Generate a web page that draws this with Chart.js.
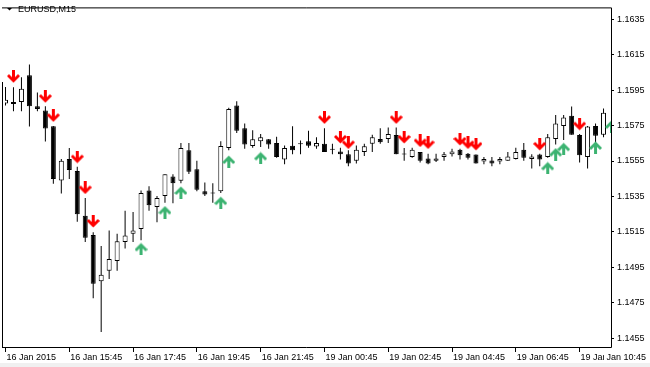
<!DOCTYPE html>
<html>
<head>
<meta charset="utf-8">
<script src="https://cdn.jsdelivr.net/npm/chart.js@4.4.0/dist/chart.umd.min.js"></script>
<style>
  html, body { margin: 0; padding: 0; background: #fff; }
  canvas { display: block; }
</style>
</head>
<body>
<canvas id="chart" width="650" height="367"></canvas>
<script>
// EURUSD M15 bars, left to right (bar 0 = 16 Jan 13:45)
var symbolTitle = 'EURUSD,M15';
var opens = [
  1.15874, 1.15883, 1.15883, 1.16034, 1.15859, 1.15835, 1.15746, 1.15440, 1.15562, 1.15493,
  1.15241, 1.15132, 1.14872, 1.14931, 1.14986, 1.15093, 1.15139, 1.15167, 1.15383, 1.15291,
  1.15352, 1.15462, 1.15438, 1.15610, 1.15503, 1.15379, 1.15368, 1.15379, 1.15623, 1.15863,
  1.15735, 1.15634, 1.15662, 1.15673, 1.15651, 1.15558, 1.15636, 1.15650, 1.15662, 1.15632,
  1.15647, 1.15615, 1.15603, 1.15588, 1.15551, 1.15601, 1.15647, 1.15674, 1.15674, 1.15697,
  1.15586, 1.15573, 1.15601, 1.15564, 1.15551, 1.15573, 1.15588, 1.15614, 1.15591, 1.15586,
  1.15547, 1.15553, 1.15547, 1.15551, 1.15562, 1.15614, 1.15562, 1.15586, 1.15573, 1.15674,
  1.15748, 1.15806, 1.15697, 1.15573, 1.15748, 1.15698
];
var highs = [
  1.15968, 1.15966, 1.16022, 1.16095, 1.15936, 1.15859, 1.15748, 1.15562, 1.15623, 1.15518,
  1.15342, 1.15148, 1.15071, 1.15158, 1.15139, 1.15269, 1.15263, 1.15383, 1.15407, 1.15352,
  1.15475, 1.15475, 1.15652, 1.15652, 1.15551, 1.15429, 1.15425, 1.15662, 1.15850, 1.15887,
  1.15761, 1.15724, 1.15702, 1.15674, 1.15687, 1.15637, 1.15746, 1.15665, 1.15720, 1.15684,
  1.15735, 1.15647, 1.15625, 1.15610, 1.15637, 1.15647, 1.15698, 1.15735, 1.15739, 1.15739,
  1.15623, 1.15625, 1.15601, 1.15591, 1.15591, 1.15601, 1.15619, 1.15619, 1.15595, 1.15586,
  1.15573, 1.15573, 1.15573, 1.15601, 1.15625, 1.15652, 1.15588, 1.15591, 1.15702, 1.15809,
  1.15809, 1.15857, 1.15702, 1.15748, 1.15761, 1.15846
];
var lows = [
  1.15863, 1.15831, 1.15831, 1.15745, 1.15831, 1.15660, 1.15421, 1.15366, 1.15449, 1.15208,
  1.15093, 1.14776, 1.14585, 1.14884, 1.14931, 1.15056, 1.15093, 1.15103, 1.15269, 1.15204,
  1.15315, 1.15311, 1.15425, 1.15477, 1.15379, 1.15352, 1.15315, 1.15370, 1.15610, 1.15708,
  1.15619, 1.15625, 1.15629, 1.15619, 1.15569, 1.15532, 1.15588, 1.15588, 1.15625, 1.15619,
  1.15601, 1.15588, 1.15558, 1.15521, 1.15536, 1.15578, 1.15601, 1.15647, 1.15651, 1.15588,
  1.15551, 1.15569, 1.15542, 1.15532, 1.15545, 1.15551, 1.15576, 1.15558, 1.15558, 1.15536,
  1.15532, 1.15521, 1.15532, 1.15551, 1.15558, 1.15551, 1.15508, 1.15521, 1.15569, 1.15643,
  1.15669, 1.15698, 1.15542, 1.15508, 1.15619, 1.15684
];
var closes = [
  1.15896, 1.15872, 1.15957, 1.15859, 1.15844, 1.15734, 1.15449, 1.15551, 1.15499, 1.15250,
  1.15117, 1.14857, 1.14909, 1.14997, 1.15097, 1.15130, 1.15158, 1.15370, 1.15300, 1.15341,
  1.15475, 1.15425, 1.15623, 1.15490, 1.15388, 1.15361, 1.15366, 1.15634, 1.15844, 1.15720,
  1.15643, 1.15673, 1.15684, 1.15643, 1.15573, 1.15623, 1.15610, 1.15644, 1.15636, 1.15651,
  1.15601, 1.15614, 1.15588, 1.15536, 1.15614, 1.15633, 1.15684, 1.15656, 1.15702, 1.15588,
  1.15586, 1.15614, 1.15551, 1.15536, 1.15564, 1.15588, 1.15604, 1.15582, 1.15569, 1.15536,
  1.15562, 1.15536, 1.15562, 1.15576, 1.15601, 1.15569, 1.15576, 1.15558, 1.15684, 1.15761,
  1.15795, 1.15698, 1.15582, 1.15745, 1.15693, 1.15822
];

// indicator arrows: bar index and price level
var sellBars   = [1, 5, 6, 9, 10, 11, 40, 42, 43, 49, 50, 52, 53, 57, 58, 59, 67, 72];
var sellLevels = [1.16026, 1.15913, 1.15805, 1.15572, 1.15398, 1.15209, 1.15794, 1.15683, 1.15652,
                  1.15794, 1.15683, 1.15663, 1.15652, 1.15672, 1.15652, 1.15644, 1.15644, 1.15758];
var buyBars    = [17, 20, 22, 27, 28, 32, 68, 69, 70, 74, 76];
var buyLevels  = [1.15054, 1.15262, 1.15373, 1.15315, 1.15547, 1.15567, 1.15511, 1.15589,
                  1.15619, 1.15627, 1.15746];

var timeTicks  = [0, 8, 16, 24, 32, 40, 48, 56, 64, 72];
var timeLabels = ['16 Jan 2015', '16 Jan 15:45', '16 Jan 17:45', '16 Jan 19:45', '16 Jan 21:45',
                  '19 Jan 00:45', '19 Jan 02:45', '19 Jan 04:45', '19 Jan 06:45', '19 Jan 08:45'];
var lastBarLabel = '19 Jan 10:45';
var priceTicks = [1.1635, 1.1615, 1.1595, 1.1575, 1.1555, 1.1535, 1.1515, 1.1495, 1.1475, 1.1455];

var FONT = '"Liberation Sans", Arial, sans-serif';
Chart.defaults.font.family = FONT;
Chart.defaults.font.size = 9;
Chart.defaults.color = '#000';

// arrow glyphs
function makeArrow(color, up) {
  var cv = document.createElement('canvas');
  cv.width = 13; cv.height = 13;
  var g = cv.getContext('2d');
  var pts = [[5,0],[8,0],[8,7],[11,4],[13,6],[6.5,12.5],[0,6],[2,4],[5,7]];
  g.fillStyle = color;
  g.beginPath();
  pts.forEach(function (p, i) {
    var y = up ? 13 - p[1] : p[1];
    if (i == 0) g.moveTo(p[0], y); else g.lineTo(p[0], y);
  });
  g.closePath();
  g.fill();
  return cv;
}
var redArrow = makeArrow('#ff0000', false);
var greenArrow = makeArrow('#3cb371', true);

var bars = opens.map(function (o, i) { return i; });

var frame = {
  id: 'frame',
  beforeDraw: function (chart) {
    var c = chart.ctx;
    c.save();
    c.fillStyle = '#fff';
    c.fillRect(0, 0, chart.width, chart.height);
    c.fillStyle = '#f0f0f0';
    c.fillRect(0, 363, chart.width, chart.height - 363);
    c.restore();
  },
  afterDraw: function (chart) {
    var c = chart.ctx, a = chart.chartArea;
    c.save();
    c.strokeStyle = '#000';
    c.lineWidth = 1;
    c.beginPath();
    c.moveTo(2, a.top - 0.5);
    c.lineTo(a.right + 0.5, a.top - 0.5);
    c.lineTo(a.right + 0.5, a.bottom - 0.5);
    c.lineTo(2, a.bottom - 0.5);
    c.moveTo(2.5, 82);
    c.lineTo(2.5, a.bottom);
    c.stroke();

    // title
    c.fillStyle = '#000';
    c.beginPath();
    c.moveTo(7, 8); c.lineTo(12, 8); c.lineTo(9.5, 10.5);
    c.closePath(); c.fill();
    c.font = '9px ' + FONT;
    c.textBaseline = 'middle';
    c.fillText(symbolTitle, 18, 9.5);

    // last bar time drawn over the last label
    c.fillStyle = '#fff';
    c.fillRect(604, 352, 46, 11);
    c.beginPath();
    c.rect(604, 352, 46, 11);
    c.clip();
    c.fillStyle = '#000';
    c.textAlign = 'right';
    c.fillText(lastBarLabel, 646, 357.5);
    c.restore();
  }
};

new Chart(document.getElementById('chart'), {
  type: 'bar',
  data: {
    datasets: [{
      type: 'scatter',
      data: sellBars.map(function (b, i) { return { x: b, y: sellLevels[i] }; }),
      pointStyle: redArrow,
      clip: 0,
      order: 0
    }, {
      type: 'scatter',
      data: buyBars.map(function (b, i) { return { x: b, y: buyLevels[i] }; }),
      pointStyle: greenArrow,
      clip: 0,
      order: 0
    }, {
      data: bars.map(function (i) { return { x: i, y: [opens[i], closes[i]] }; }),
      backgroundColor: bars.map(function (i) { return closes[i] >= opens[i] ? '#ffffff' : '#000000'; }),
      borderColor: '#000',
      borderWidth: 1,
      borderSkipped: false,
      inflateAmount: 0,
      barThickness: 5,
      minBarLength: 1,
      grouped: false,
      order: 1
    }, {
      data: bars.map(function (i) { return { x: i, y: [lows[i], highs[i]] }; }),
      backgroundColor: '#000',
      borderWidth: 0,
      inflateAmount: 0,
      barThickness: 1,
      grouped: false,
      order: 2
    }]
  },
  options: {
    responsive: false,
    animation: false,
    layout: { padding: { left: 3, top: 2, right: 0, bottom: 0 } },
    plugins: { legend: { display: false }, tooltip: { enabled: false } },
    scales: {
      x: {
        type: 'linear',
        offset: false,
        min: -0.0625,
        max: 75.9375,
        border: { display: false },
        grid: { offset: false, drawOnChartArea: false, drawTicks: true, tickLength: 4, color: '#000' },
        afterBuildTicks: function (s) { s.ticks = timeTicks.map(function (v) { return { value: v }; }); },
        afterFit: function (s) { s.height = 19; },
        ticks: {
          autoSkip: false,
          maxRotation: 0,
          align: 'start',
          labelOffset: 1,
          padding: 0,
          callback: function (v, i) { return timeLabels[i]; }
        }
      },
      y: {
        position: 'right',
        min: 1.144951,
        max: 1.164109,
        border: { display: false },
        grid: { drawOnChartArea: false, drawTicks: true, tickLength: 3, color: '#000' },
        afterBuildTicks: function (s) { s.ticks = priceTicks.map(function (v) { return { value: v }; }); },
        afterFit: function (s) { s.width = 39; },
        ticks: {
          padding: 3,
          callback: function (v) { return v.toFixed(4); }
        }
      }
    }
  },
  plugins: [frame]
});
</script>
</body>
</html>
